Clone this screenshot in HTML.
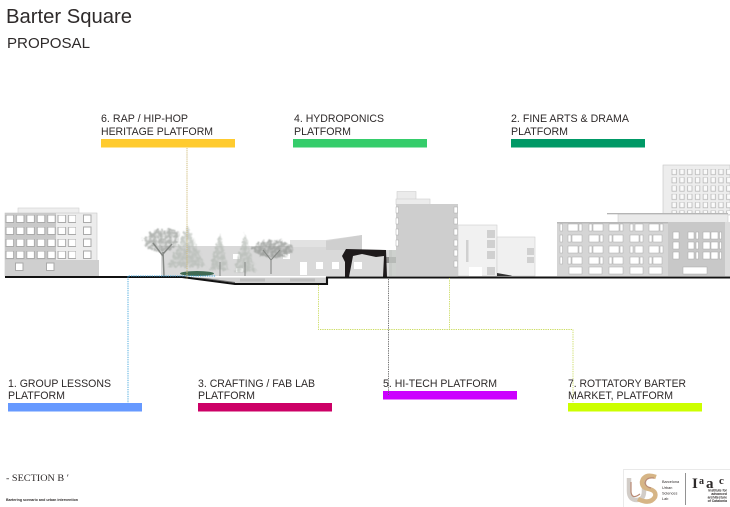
<!DOCTYPE html>
<html><head><meta charset="utf-8"><style>
html,body{margin:0;padding:0;background:#fff;width:730px;height:507px;overflow:hidden}
svg{display:block}
text{font-family:"Liberation Sans",sans-serif;fill:#2e2a2a}
.l{font-size:11px}
</style></head><body>
<svg width="730" height="507" viewBox="0 0 730 507" xmlns="http://www.w3.org/2000/svg">
<defs>
<pattern id="w1" x="5.200" y="215" width="10.400" height="12" patternUnits="userSpaceOnUse"><rect x="0.800" y="0" width="7.600" height="7.500" fill="#fff" stroke="#aaaaaa" stroke-width="1"/></pattern>
<pattern id="tw" x="671" y="169" width="7.800" height="8.300" patternUnits="userSpaceOnUse"><rect x="1" y="0" width="4.400" height="5.600" fill="#fafafa" stroke="#b8b8b8" stroke-width=".8"/></pattern>
<filter id="b2"><feGaussianBlur stdDeviation=".35"/></filter>
<filter id="tree" x="-20%" y="-20%" width="140%" height="140%">
<feTurbulence type="fractalNoise" baseFrequency=".32" numOctaves="2" seed="4" result="n"/>
<feDisplacementMap in="SourceGraphic" in2="n" scale="7" xChannelSelector="R" yChannelSelector="G" result="d"/>
<feColorMatrix in="n" type="matrix" values="0 0 0 0 0  0 0 0 0 0  0 0 0 0 0  2.400 0 0 0 -.35" result="m"/>
<feComposite in="d" in2="m" operator="in"/>
<feGaussianBlur stdDeviation=".6"/>
</filter>
</defs>

<text x="6" y="23" font-size="20.500" textLength="126" lengthAdjust="spacingAndGlyphs">Barter Square</text>
<text x="7" y="48" font-size="14.500" textLength="83" lengthAdjust="spacingAndGlyphs">PROPOSAL</text>

<!-- left building -->
<g filter="url(#b2)">
<rect x="18" y="208" width="61" height="6" fill="#eeeeee" stroke="#d0d0d0" stroke-width=".6"/>
<rect x="5" y="213" width="92" height="63" fill="#ececec" stroke="#c8c8c8" stroke-width=".6"/>
<rect x="5" y="213" width="51" height="63" fill="#c9c9c9"/>
<rect x="5" y="260" width="94" height="16" fill="#cfcfcf"/>
<rect x="5" y="214" width="71" height="46" fill="url(#w1)"/>
<g fill="#fff" stroke="#aaaaaa" stroke-width="1">
<rect x="83.500" y="215" width="7.500" height="7.500"/>
<rect x="83.500" y="227" width="7.500" height="7.500"/>
<rect x="83.500" y="239" width="7.500" height="7.500"/>
<rect x="83.500" y="251" width="7.500" height="7.500"/>
<rect x="15.500" y="263" width="7.500" height="7.500"/>
<rect x="46.500" y="263" width="7.500" height="7.500"/>
</g>
</g>

<!-- central low building -->
<g filter="url(#b2)">
<polygon points="161,246 290,246 290,240 326,240 362,235 362,250 392,250 392,276 161,276" fill="#d9d9d9"/>
<polygon points="290,240 326,240 326,247 290,247" fill="#e2e2e2"/>
<polygon points="326,241 362,235 362,250 326,250" fill="#cfcfcf"/>
<rect x="386" y="257" width="12" height="6" fill="#8e8e8e"/>
<rect x="389" y="250" width="9" height="26" fill="#c2c6c2" fill-opacity=".8"/>
<rect x="233" y="254" width="7" height="5" fill="#fff"/>
<rect x="236" y="268" width="7" height="4" fill="#fff"/>
<rect x="283" y="254" width="7" height="5" fill="#fff"/>
<rect x="300" y="262" width="7" height="13" fill="#fff"/>
<rect x="316" y="262" width="7" height="7" fill="#fff"/>
<rect x="332" y="262" width="7" height="7" fill="#fff"/>
<rect x="354" y="262" width="8" height="7" fill="#fff"/>
</g>

<!-- trees -->
<g opacity=".72">
<g filter="url(#tree)">
<ellipse cx="161" cy="241" rx="17" ry="11" fill="#979b97"/>
<ellipse cx="170" cy="235" rx="9" ry="6" fill="#979b97"/>
<polygon points="187,225 168,267 206,267" fill="#b4bab4"/>
<polygon points="220,233 209,270 229,270" fill="#b4bab4"/>
<polygon points="245,233 234,272 256,272" fill="#b4bab4"/>
<ellipse cx="273" cy="249" rx="20" ry="9" fill="#8e928e"/>
</g>
</g>
<g stroke="#858885" fill="none" filter="url(#b2)">
<path d="M164 276 L163 252 M163 256 L153 243 M163 254 L172 244" stroke-width="1.500"/>
<path d="M220 276 V262 M245 276 V262" stroke-width="1"/>
<path d="M271 274 L271 260 L263 250 M271 260 L280 250" stroke-width="1.100"/>
</g>
<ellipse cx="197" cy="273.500" rx="17" ry="2.500" fill="#3f6b52" filter="url(#b2)"/>

<!-- tall grey building -->
<g filter="url(#b2)">
<rect x="397" y="191.500" width="19" height="8" fill="#ebebeb" stroke="#cfcfcf" stroke-width=".6"/>
<rect x="396" y="199" width="34" height="5.500" fill="#ececec" stroke="#cfcfcf" stroke-width=".6"/>
<rect x="396" y="204" width="62" height="72" fill="#cecece"/>
<g fill="#fff" stroke="#aaa" stroke-width=".5">
<rect x="396" y="207" width="2.500" height="6"/><rect x="396" y="218" width="2.500" height="6"/><rect x="396" y="229" width="2.500" height="6"/><rect x="396" y="240" width="2.500" height="6"/>
<rect x="454" y="207" width="3.500" height="6"/><rect x="454" y="218" width="3.500" height="6"/><rect x="454" y="229" width="3.500" height="6"/><rect x="454" y="240" width="3.500" height="6"/><rect x="454" y="250" width="3.500" height="6"/><rect x="454" y="261" width="3.500" height="6"/>
</g>
<rect x="458" y="225" width="39" height="51" fill="#f1f1f1" stroke="#cfcfcf" stroke-width=".6"/>
<rect x="497" y="237" width="38" height="39" fill="#f0f0f0" stroke="#cfcfcf" stroke-width=".6"/>
<rect x="469" y="267" width="13" height="9" fill="#fff"/>
<g fill="#d0d0d0"><rect x="487" y="230" width="8" height="8"/><rect x="487" y="240" width="8" height="8"/><rect x="487" y="251" width="8" height="8"/><rect x="487" y="267" width="8" height="8"/><rect x="527" y="248" width="7" height="7"/><rect x="527" y="257" width="7" height="6"/><rect x="466" y="240" width="2.500" height="22"/></g>
</g>
<polygon points="497,273 511,275.500 512,276 497,276" fill="#333"/>

<!-- right buildings -->
<g filter="url(#b2)">
<rect x="663" y="165" width="67" height="50" fill="#ededed" stroke="#c4c4c4" stroke-width=".6"/>
<rect x="671" y="169" width="59" height="45" fill="url(#tw)"/>
<rect x="618" y="214" width="110" height="9" fill="#eaeaea" stroke="#c4c4c4" stroke-width=".5"/>
<rect x="607" y="213" width="121" height="1.300" fill="#b5b5b5"/>
<rect x="557" y="222" width="173" height="54" fill="#d5d5d5"/>
<rect x="668" y="222" width="57" height="54" fill="#c8c8c8"/>
<rect x="725" y="222" width="5" height="54" fill="#dcdcdc"/>
<rect x="557" y="222" width="111" height="1.500" fill="#b8b8b8"/>
<g fill="#fff" stroke="#a8a8a8" stroke-width=".5">
<rect x="560" y="224" width="2.500" height="7"/><rect x="568" y="224" width="10" height="7"/><rect x="579" y="224" width="3" height="7"/><rect x="589" y="224" width="3" height="7"/><rect x="593" y="224" width="10" height="7"/><rect x="609" y="224" width="10" height="7"/><rect x="620" y="224" width="3" height="7"/><rect x="630" y="224" width="3" height="7"/><rect x="635" y="224" width="8" height="7"/><rect x="649" y="224" width="10" height="7"/><rect x="660" y="224" width="3" height="7"/>
<rect x="560" y="235" width="2.500" height="7"/><rect x="568" y="235" width="3" height="7"/><rect x="572" y="235" width="10" height="7"/><rect x="589" y="235" width="10" height="7"/><rect x="600" y="235" width="3" height="7"/><rect x="609" y="235" width="3" height="7"/><rect x="613" y="235" width="10" height="7"/><rect x="630" y="235" width="9" height="7"/><rect x="640" y="235" width="3" height="7"/><rect x="649" y="235" width="3" height="7"/><rect x="653" y="235" width="9" height="7"/>
<rect x="560" y="246" width="2.500" height="7"/><rect x="568" y="246" width="10" height="7"/><rect x="579" y="246" width="3" height="7"/><rect x="589" y="246" width="3" height="7"/><rect x="593" y="246" width="10" height="7"/><rect x="609" y="246" width="10" height="7"/><rect x="620" y="246" width="3" height="7"/><rect x="630" y="246" width="3" height="7"/><rect x="635" y="246" width="8" height="7"/><rect x="649" y="246" width="10" height="7"/><rect x="660" y="246" width="3" height="7"/>
<rect x="560" y="257" width="2.500" height="7"/><rect x="568" y="257" width="3" height="7"/><rect x="572" y="257" width="10" height="7"/><rect x="589" y="257" width="10" height="7"/><rect x="600" y="257" width="3" height="7"/><rect x="609" y="257" width="3" height="7"/><rect x="613" y="257" width="10" height="7"/><rect x="630" y="257" width="9" height="7"/><rect x="640" y="257" width="3" height="7"/><rect x="649" y="257" width="3" height="7"/><rect x="653" y="257" width="9" height="7"/>
<rect x="569" y="267" width="13" height="7"/><rect x="589" y="267" width="13" height="7"/><rect x="609" y="267" width="14" height="7"/><rect x="630" y="267" width="13" height="7"/><rect x="649" y="267" width="13" height="7"/>
<rect x="673" y="232" width="6" height="7"/><rect x="673" y="242" width="6" height="7"/><rect x="673" y="252" width="6" height="7"/>
<rect x="688" y="232" width="6" height="7"/><rect x="688" y="242" width="6" height="7"/><rect x="688" y="252" width="6" height="7"/>
<rect x="696" y="232" width="2.500" height="7"/><rect x="696" y="242" width="2.500" height="7"/><rect x="696" y="252" width="2.500" height="7"/>
<rect x="703" y="232" width="7" height="7"/><rect x="703" y="242" width="7" height="7"/><rect x="703" y="252" width="7" height="7"/>
<rect x="711" y="232" width="7" height="7"/><rect x="711" y="242" width="7" height="7"/><rect x="711" y="252" width="7" height="7"/>
<rect x="719.500" y="232" width="2" height="7"/><rect x="719.500" y="242" width="2" height="7"/><rect x="719.500" y="252" width="2" height="7"/>
<rect x="683" y="267" width="24" height="7"/>
</g>
</g>

<!-- dark pavilion -->
<polygon points="346,249 386,250 387,277 383,277 384,256 376,257 362,254 353,256 349,277 345,277 345,262 342,256" fill="#1e1a1b"/>

<!-- sunken ground -->
<polygon points="187,277.500 235,283 327,283 327,277.500" fill="#d0d0d0"/>
<polygon points="187,277 205,278 235,282 235,283" fill="#6f6f6f"/>
<rect x="240" y="278.500" width="25" height="3" fill="#bdbdbd"/>
<rect x="290" y="278.500" width="25" height="3" fill="#bdbdbd"/>
<polyline points="5,277 182,277 235,284 327,284 327,277.500 730,277.500" fill="none" stroke="#111" stroke-width="2.100"/>

<!-- connectors -->
<g fill="none" stroke-width=".9">
<path d="M128 411V276H216" stroke="#3fa5dc" stroke-dasharray="1.300 1"/>
<path d="M187 148V279" stroke="#cdb873" stroke-dasharray="1.300 .8"/>
<path d="M318.500 285V329.500H573V403M449.500 278V329.500" stroke="#cbdc60" stroke-dasharray="1.300 1"/>
</g>

<!-- bars -->
<rect x="101" y="139" width="134" height="8.500" fill="#ffcb2f"/>
<rect x="293" y="139" width="134" height="8.500" fill="#35cd6b"/>
<rect x="511" y="139" width="134" height="8.500" fill="#009966"/>
<rect x="8" y="403" width="134" height="8.500" fill="#6699ff"/>
<rect x="198" y="403" width="134" height="8.500" fill="#cc0066"/>
<rect x="383" y="391" width="134" height="8.500" fill="#cc00ff"/>
<rect x="568" y="403" width="134" height="8.500" fill="#ccff00"/>
<path d="M388.500 279V395" fill="none" stroke="#666" stroke-width=".9" stroke-dasharray="1.300 1"/>

<!-- labels -->
<g class="l">
<text x="101" y="122" textLength="87" lengthAdjust="spacingAndGlyphs">6. RAP / HIP-HOP</text>
<text x="101" y="135" textLength="112" lengthAdjust="spacingAndGlyphs">HERITAGE PLATFORM</text>
<text x="294" y="122" textLength="90" lengthAdjust="spacingAndGlyphs">4. HYDROPONICS</text>
<text x="294" y="135" textLength="57" lengthAdjust="spacingAndGlyphs">PLATFORM</text>
<text x="511" y="122" textLength="118" lengthAdjust="spacingAndGlyphs">2. FINE ARTS &amp; DRAMA</text>
<text x="511" y="135" textLength="57" lengthAdjust="spacingAndGlyphs">PLATFORM</text>
<text x="8" y="387" textLength="103" lengthAdjust="spacingAndGlyphs">1. GROUP LESSONS</text>
<text x="8" y="399" textLength="57" lengthAdjust="spacingAndGlyphs">PLATFORM</text>
<text x="198" y="387" textLength="117" lengthAdjust="spacingAndGlyphs">3. CRAFTING / FAB LAB</text>
<text x="198" y="399" textLength="57" lengthAdjust="spacingAndGlyphs">PLATFORM</text>
<text x="383" y="387" textLength="114" lengthAdjust="spacingAndGlyphs">5. HI-TECH PLATFORM</text>
<text x="568" y="387" textLength="118" lengthAdjust="spacingAndGlyphs">7. ROTTATORY BARTER</text>
<text x="568" y="399" textLength="105" lengthAdjust="spacingAndGlyphs">MARKET, PLATFORM</text>
</g>

<!-- footer left -->
<text x="6" y="481" style="font-family:'Liberation Serif',serif" font-size="9.500" textLength="63" lengthAdjust="spacingAndGlyphs">- SECTION B ′</text>
<text x="6" y="501" font-size="4" font-weight="bold" textLength="72" lengthAdjust="spacingAndGlyphs">Bartering scenario and urban intervention</text>

<!-- footer logos -->
<path d="M730 469.500H623.500V507" fill="none" stroke="#e2e2e2" stroke-width=".7"/>
<g fill="none" filter="url(#b2)">
<path d="M629 478V491Q629 500 637 500Q644 500 644 491V478" stroke="#d2cdc8" stroke-width="4.500"/>
<path d="M656 477Q644 473 642 482Q642 488 649 489Q657 491 655 497Q650 505 638 499" stroke="#d6b586" stroke-width="4.500"/>
<path d="M631 482V492Q632 500 640 494M654 478Q646 477 645 483Q646 487 651 488" stroke="#b98a74" stroke-width="1.200"/>
</g>
<g font-size="3.800" fill="#555">
<text x="662" y="483">Barcelona</text>
<text x="662" y="489">Urban</text>
<text x="662" y="494.500">Sciences</text>
<text x="662" y="500">Lab</text>
</g>
<rect x="685" y="473" width=".8" height="32" fill="#777"/>
<text x="692" y="488" font-size="15" font-weight="bold" fill="#111" style="font-family:'Liberation Serif',serif">I</text>
<text x="699" y="484" font-size="10" font-weight="bold" fill="#111" style="font-family:'Liberation Serif',serif">a</text>
<text x="706" y="488" font-size="15" font-weight="bold" fill="#111" style="font-family:'Liberation Serif',serif">a</text>
<text x="719" y="484" font-size="11" font-weight="bold" fill="#111" style="font-family:'Liberation Serif',serif">c</text>
<g font-size="3.400" font-weight="bold" text-anchor="end" fill="#222">
<text x="727" y="491.500">Institute for</text>
<text x="727" y="495">advanced</text>
<text x="727" y="498.500">architecture</text>
<text x="727" y="502">of Catalonia</text>
</g>
</svg>
</body></html>
